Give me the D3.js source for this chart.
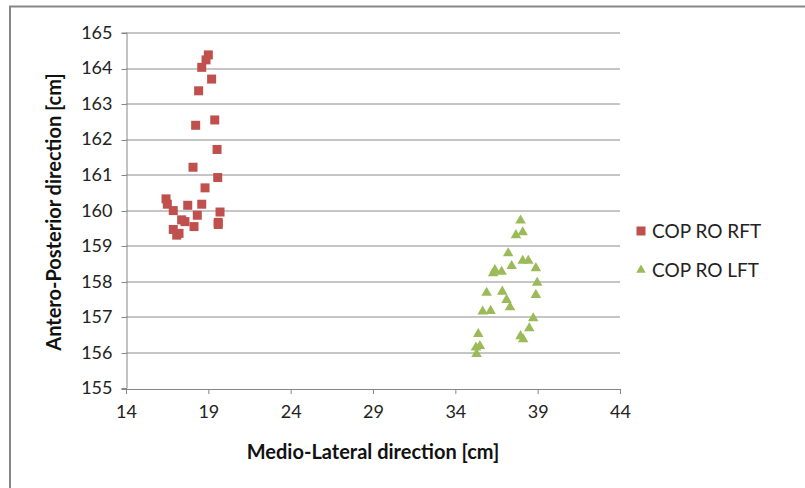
<!DOCTYPE html>
<html>
<head>
<meta charset="utf-8">
<script src="https://cdn.jsdelivr.net/npm/d3@7"></script>
<style>
  body { margin: 0; background: #fff; }
  svg { font-family: Lato, "Open Sans", sans-serif; }
</style>
</head>
<body>
<div class="chart"></div>
<script>
// data
var rftX = [19.00, 18.86, 18.60, 19.20, 18.41, 19.39, 18.23, 19.53, 18.07, 19.57, 18.80, 16.43, 16.51,
            17.75, 18.60, 16.87, 19.71, 18.33, 17.38, 17.58, 18.13, 19.60, 19.60, 16.87, 17.22, 17.08];
var rftY = [164.37, 164.23, 164.02, 163.69, 163.36, 162.54, 162.39, 161.71, 161.21, 160.92, 160.63, 160.32, 160.17,
            160.14, 160.17, 159.99, 159.95, 159.86, 159.73, 159.68, 159.54, 159.66, 159.60, 159.46, 159.35, 159.30];
var lftX = [37.96, 38.09, 37.68, 37.21, 37.42, 38.09, 38.43, 38.89, 36.40, 36.81, 36.30, 38.97, 35.90, 36.85,
            38.89, 37.11, 37.32, 35.66, 36.14, 38.73, 38.49, 37.96, 38.12, 35.39, 35.49, 35.25, 35.29];
var lftY = [159.71, 159.38, 159.30, 158.79, 158.43, 158.58, 158.58, 158.37, 158.32, 158.27, 158.23, 157.96, 157.68, 157.71,
            157.62, 157.48, 157.27, 157.15, 157.17, 156.96, 156.68, 156.46, 156.37, 156.52, 156.18, 156.14, 155.96];
var seriesNames = ["COP RO RFT", "COP RO LFT"];
var xTicks = [14, 19, 24, 29, 34, 39, 44];
var yTicks = [155, 156, 157, 158, 159, 160, 161, 162, 163, 164, 165];

var svgwidth = 805, svgheight = 488;
var margin = {top: 32.5, right: 185, bottom: 100, left: 126};
var mywidth = svgwidth - margin.left - margin.right;   // 494

var svg = d3.select(".chart").append("svg")
    .attr("width", svgwidth)
    .attr("height", svgheight);

// chart area border (runs off the right / bottom of the picture)
svg.append("rect")
    .attr("x", 10).attr("y", 6.5)
    .attr("width", 820).attr("height", 500)
    .attr("fill", "none")
    .attr("stroke", "#878787")
    .attr("stroke-width", 2);

var g = svg.append("g")
    .attr("transform", "translate(" + margin.left + "," + margin.top + ")");

var posX = d3.scaleLinear().domain([14, 44]).range([0, mywidth]);
var posY = d3.scaleLinear().domain([155, 165]).range([355.5, 0]);

// gridlines
g.selectAll(".grid")
    .data(yTicks.slice(1))
    .enter().append("line")
    .attr("class", "grid")
    .attr("x1", 0).attr("x2", mywidth)
    .attr("y1", function(d) { return Math.round(posY(d)) + 0.5; })
    .attr("y2", function(d) { return Math.round(posY(d)) + 0.5; })
    .attr("stroke", "#8c8c8c")
    .attr("stroke-width", 1);

// axes
var xAxis = g.append("g")
    .attr("transform", "translate(0," + (Math.round(posY(155)) + 0.5) + ")")
    .call(d3.axisBottom(posX).tickValues(xTicks).tickSize(5).tickPadding(11));
var yAxis = g.append("g")
    .attr("transform", "translate(0.5,0)")
    .call(d3.axisLeft(posY).tickValues(yTicks).tickSize(5).tickPadding(9));

[xAxis, yAxis].forEach(function(a) {
    a.attr("font-family", null).attr("font-size", null);
    a.select(".domain").attr("stroke", "#868686");
    a.selectAll(".tick line").attr("stroke", "#868686");
    a.selectAll(".tick text")
        .style("font-size", "18px")
        .attr("fill", "#222");
});
yAxis.selectAll(".tick line").attr("transform", function(d) { return "translate(0," + (Math.round(posY(d)) + 0.5 - posY(d)) + ")"; });

// markers
var rft = rftX.map(function(x, i) { return {x: x, y: rftY[i]}; });
var lft = lftX.map(function(x, i) { return {x: x, y: lftY[i]}; });

g.selectAll(".rft")
    .data(rft)
    .enter().append("rect")
    .attr("class", "rft")
    .attr("x", function(d) { return posX(d.x) - 4.5; })
    .attr("y", function(d) { return posY(d.y) - 4.5; })
    .attr("width", 9).attr("height", 9)
    .attr("fill", "#C0504D");

var tri = d3.symbol().type(d3.symbolTriangle).size(48);
g.selectAll(".lft")
    .data(lft)
    .enter().append("path")
    .attr("class", "lft")
    .attr("d", tri)
    .attr("transform", function(d) { return "translate(" + posX(d.x) + "," + posY(d.y) + ")"; })
    .attr("fill", "#9BBB59");

// axis titles
svg.append("text")
    .attr("x", 373).attr("y", 459)
    .attr("text-anchor", "middle")
    .style("font-size", "20px")
    .attr("font-weight", "bold")
    .attr("fill", "#111")
    .text("Medio-Lateral direction [cm]");
svg.append("text")
    .attr("transform", "translate(61,212) rotate(-90)")
    .attr("text-anchor", "middle")
    .style("font-size", "20px")
    .attr("font-weight", "bold")
    .attr("fill", "#111")
    .text("Antero-Posterior direction [cm]");

// legend
var legend = svg.append("g").attr("transform", "translate(641,0)");
legend.append("rect")
    .attr("x", -4.5).attr("y", 231 - 4.5)
    .attr("width", 9).attr("height", 9)
    .attr("fill", "#C0504D");
legend.append("path")
    .attr("d", d3.symbol().type(d3.symbolTriangle).size(40))
    .attr("transform", "translate(0,270)")
    .attr("fill", "#9BBB59");
legend.selectAll(".ltext")
    .data(seriesNames)
    .enter().append("text")
    .attr("class", "ltext")
    .attr("x", 11)
    .attr("y", function(d, i) { return 231 + i * 39 + 6.5; })
    .style("font-size", "19px")
    .attr("fill", "#222")
    .text(function(d) { return d; });
</script>
</body>
</html>
